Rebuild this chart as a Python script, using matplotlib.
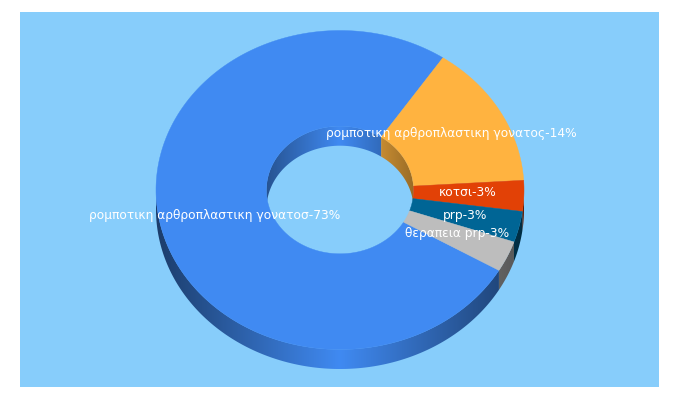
import numpy as np
import matplotlib
matplotlib.use("Agg")
import matplotlib.pyplot as plt
from matplotlib.patches import Polygon
from matplotlib.colors import to_rgb

labels = ["ρομποτικη αρθροπλαστικη γονατοσ-73%",
          "ρομποτικη αρθροπλαστικη γονατος-14%",
          "κοτσι-3%", "prp-3%", "θεραπεια prp-3%"]
values = [73, 14, 3, 3, 3]
colors = ["#408af2", "#ffb340", "#e24106", "#006595", "#bdbdbd"]
label_xy = [(214.5, 215.5), (451, 133), (468, 192), (465, 215), (457, 234)]

BG = "#87cdfb"
CX, CY, RX, RY = 340.0, 190.0, 184.0, 159.5
HOLE = 0.4
DEPTH = 19.5
START = -30.25            # degrees counter-clockwise where the first slice starts; slices run clockwise

fig = plt.figure(figsize=(6.8, 4.0), dpi=100, facecolor="white")
ax = fig.add_axes([0, 0, 1, 1])
ax.add_patch(plt.Rectangle((20, 12), 639, 375, fc=BG, ec="none", zorder=0))

total = sum(values)
spans = [v / total * 360 for v in values]


def pt(theta, k=1.0):
    t = np.radians(theta)
    return CX + k * RX * np.cos(t), CY - k * RY * np.sin(t)


def wall(a0, a1, col, k, lo, hi, strength, z):
    """Side wall of one slice: a horizontal shading clipped to the wall's outline."""
    a0, a1 = min(a0, a1), max(a0, a1)
    base = np.array(to_rgb(col))
    for off in (-720, -360, 0, 360):
        s, e = max(a0 + off, lo), min(a1 + off, hi)
        if e <= s:
            continue
        th = np.linspace(s, e, max(8, int((e - s) * 3)))
        x, y = pt(th, k)
        outline = np.c_[np.r_[x, x[::-1]], np.r_[y, y[::-1] + DEPTH]]
        xs = np.linspace(x.min() - 1, x.max() + 1, max(4, int(x.max() - x.min()) * 2 + 4))
        f = 1 - strength * np.abs(xs - CX) / (k * RX)
        img = (base[None, :] * f[:, None])[None, :, :].clip(0, 1)
        im = ax.imshow(img, extent=(xs[0], xs[-1], outline[:, 1].max() + 1, outline[:, 1].min() - 1),
                       aspect="auto", interpolation="bilinear", zorder=z)
        clip = Polygon(outline, closed=True, transform=ax.transData, fc="none", ec="none")
        ax.add_patch(clip)
        im.set_clip_path(clip)


arcs = []
cur = START
for s in spans:
    arcs.append((cur, cur - s))
    cur -= s

for (a0, a1), col in zip(arcs, colors):
    wall(a0, a1, col, 1.0, -180, 0, 0.56, 1)    # outer wall (near side)
    wall(a0, a1, col, HOLE, 0, 180, 0.40, 2)    # inner wall (far side)

for (a0, a1), col in zip(arcs, colors):
    lo, hi = min(a0, a1), max(a0, a1)
    th = np.linspace(lo, hi, max(4, int((hi - lo) * 2)))
    xo, yo = pt(th, 1.0)
    xi, yi = pt(th[::-1], HOLE)
    ax.fill(np.r_[xo, xi], np.r_[yo, yi], fc=col, ec=col, lw=0.3, zorder=3)

for lab, (x, y) in zip(labels, label_xy):
    ax.text(x, y, lab, color="white", fontsize=8.8, family="DejaVu Sans",
            ha="center", va="center", zorder=5)

ax.set_xlim(0, 680)
ax.set_ylim(400, 0)
ax.axis("off")
fig.savefig("out.png", dpi=100, facecolor="white")
